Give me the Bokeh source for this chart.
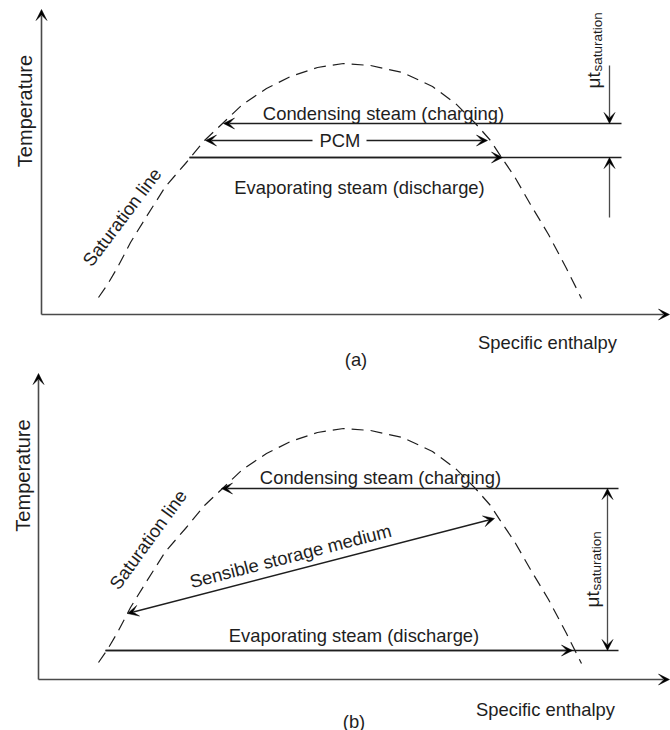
import math
from bokeh.plotting import figure
from bokeh.layouts import column
from bokeh.models import Arrow, VeeHead, Range1d
from bokeh.core.properties import value
from bokeh.embed import file_html
from bokeh.resources import INLINE

# ---------------- data (enthalpy in px-like units, temperature above the h-axis) ----------
# saturation line (same in both panels)
sat_h = [98, 107, 117, 130, 146, 165, 185, 204, 222, 242, 266, 290, 317, 343,
         370, 402, 432, 455, 475, 490, 501, 514, 530, 548, 566, 581]
sat_T = [17, 30, 47, 72, 98, 128, 151, 174, 191, 210, 226, 238, 247, 251,
         249, 242, 228, 211, 191, 174, 157, 138, 110, 80, 46, 16]

# panel (a): latent (PCM) storage
a_axis_h, a_axis_Ttop, a_axis_hend = 41, 305, 669
a_cond_T, a_pcm_T, a_evap_T = 191, 174, 157
a_cond_h = [621, 223]            # line start, arrow tip
a_pcm_left = [312, 205]
a_pcm_right = [366, 487]
a_evap_h = [189, 621, 502]       # start, end, arrow tip
a_dT_h = 609
a_dT_top = [249, 191]
a_dT_bot = [97, 157]

# panel (b): sensible storage
b_axis_h, b_axis_Ttop, b_axis_hend = 38, 306, 669
b_cond_T, b_evap_T = 191, 29
b_cond_h = [618, 221]
b_evap_h = [105, 618, 572]
b_sens_h = [127, 494]
b_sens_T = [66, 161]
b_dT_h = 607

FONT = "Liberation Sans"
INK = "#1e1e1e"
AXIS = "#4a4a4a"
FS = "18.4px"


def make_fig(height, yr):
    p = figure(width=670, height=height, x_range=Range1d(0, 670), y_range=Range1d(*yr),
               output_backend="svg", toolbar_location=None, min_border=0,
               x_axis_location=None, y_axis_location=None)
    p.grid.visible = False
    p.outline_line_color = None
    return p


def arrow(p, x0, y0, x1, y1, color=INK, w=1.3, both=False, size=11):
    kw = {}
    if both:
        kw["start"] = VeeHead(size=size, fill_color="black", line_color="black", line_width=0.5)
    p.add_layout(Arrow(end=VeeHead(size=size, fill_color="black", line_color="black", line_width=0.5),
                       x_start=x0, y_start=y0, x_end=x1, y_end=y1,
                       line_color=color, line_width=w, **kw))


def txt(p, x, y, s, size=FS, angle=0.0, align="center", baseline="alphabetic"):
    p.text(x=[x], y=[y], text=[s], angle=angle, text_font=value(FONT),
           text_font_size=size, text_align=align, text_baseline=baseline, text_color=INK)


def axes(p, h0, ttop, hend):
    arrow(p, h0, 0, h0, ttop, color=AXIS, w=1.6)
    arrow(p, h0, 0, hend, 0, color=AXIS, w=1.6)


def sat_line(p):
    p.line(sat_h, sat_T, line_color=INK, line_width=1.2, line_dash="12 7")


# ---------------- panel (a) ----------------
pa = make_fig(370, (-56, 314))
axes(pa, a_axis_h, a_axis_Ttop, a_axis_hend)
sat_line(pa)
arrow(pa, a_cond_h[0], a_cond_T, a_cond_h[1], a_cond_T)
arrow(pa, a_pcm_left[0], a_pcm_T, a_pcm_left[1], a_pcm_T)
arrow(pa, a_pcm_right[0], a_pcm_T, a_pcm_right[1], a_pcm_T)
pa.line([a_evap_h[0], a_evap_h[1]], [a_evap_T, a_evap_T], line_color=INK, line_width=1.3)
arrow(pa, a_evap_h[0], a_evap_T, a_evap_h[2], a_evap_T)
arrow(pa, a_dT_h, a_dT_top[0], a_dT_h, a_dT_top[1], color=AXIS)
arrow(pa, a_dT_h, a_dT_bot[0], a_dT_h, a_dT_bot[1], color=AXIS)

txt(pa, 383, 201, "Condensing steam (charging)")
txt(pa, 339.5, a_pcm_T, "PCM", baseline="middle")
txt(pa, 359, 127, "Evaporating steam (discharge)")
txt(pa, 547, -28, "Specific enthalpy")
txt(pa, 355.5, -45, "(a)")
txt(pa, 24, 203.5, "Temperature", size="20px", angle=math.pi / 2)
txt(pa, 121.5, 97.5, "Saturation line", angle=math.radians(53), baseline="middle")
txt(pa, 593, 226, "\u03bct", size="19px", angle=math.pi / 2, align="left")
txt(pa, 597, 243, "saturation", size="13.5px", angle=math.pi / 2, align="left")

# ---------------- panel (b) ----------------
pb = make_fig(360, (-51, 309))
axes(pb, b_axis_h, b_axis_Ttop, b_axis_hend)
sat_line(pb)
arrow(pb, b_cond_h[0], b_cond_T, b_cond_h[1], b_cond_T)
pb.line([b_evap_h[0], b_evap_h[1]], [b_evap_T, b_evap_T], line_color=INK, line_width=1.3)
arrow(pb, b_evap_h[0], b_evap_T, b_evap_h[2], b_evap_T)
arrow(pb, b_sens_h[0], b_sens_T[0], b_sens_h[1], b_sens_T[1], both=True)
arrow(pb, b_dT_h, b_evap_T, b_dT_h, b_cond_T, color=AXIS, both=True)

txt(pb, 380, 202, "Condensing steam (charging)")
txt(pb, 353.5, 44, "Evaporating steam (discharge)")
txt(pb, 290, 123.5, "Sensible storage medium", angle=math.radians(14.5))
txt(pb, 545, -30, "Specific enthalpy")
txt(pb, 353.5, -41.5, "(b)")
txt(pb, 22, 204, "Temperature", size="20px", angle=math.pi / 2)
txt(pb, 147.5, 140, "Saturation line", angle=math.radians(54), baseline="middle")
txt(pb, 592, 72, "\u03bct", size="19px", angle=math.pi / 2, align="left")
txt(pb, 596, 89, "saturation", size="13.5px", angle=math.pi / 2, align="left")

layout = column(pa, pb)
open("out.html", "w").write(file_html(layout, INLINE))
